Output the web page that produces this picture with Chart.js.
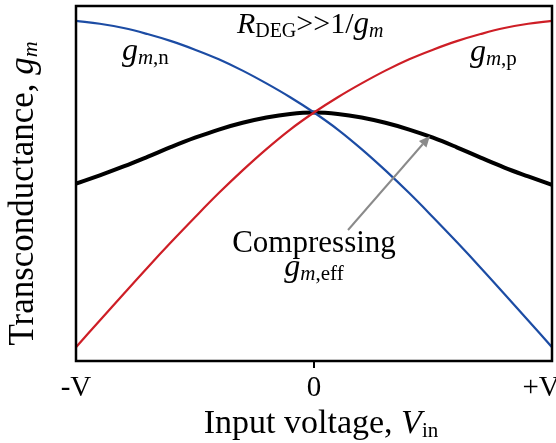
<!DOCTYPE html>
<html>
<head>
<meta charset="utf-8">
<script src="https://cdn.jsdelivr.net/npm/chart.js@4.4.0/dist/chart.umd.min.js"></script>
<style>
  html, body { margin: 0; padding: 0; background: #fff; }
  #gmChart { display: block; }
</style>
</head>
<body>
<canvas id="gmChart" width="556" height="443"></canvas>
<script>
// Input voltage sweep, -V .. +V normalized to -1 .. 1
const vin = [-1, -0.9, -0.8, -0.7, -0.6, -0.5, -0.4, -0.3, -0.2, -0.1, 0,
             0.1, 0.2, 0.3, 0.4, 0.5, 0.6, 0.7, 0.8, 0.9, 1];

// Transconductance (arbitrary units, 0..100)
const gmN = [95.8, 95.0, 93.8, 92.1, 90.1, 87.7, 85.0, 81.8, 78.2, 74.3, 70.0,
             65.2, 59.7, 53.7, 47.3, 40.5, 33.5, 26.3, 18.9, 11.4, 3.9];
const gmP = [3.9, 11.4, 18.9, 26.3, 33.5, 40.5, 47.3, 53.7, 59.7, 65.2, 70.0,
             74.3, 78.2, 81.8, 85.0, 87.7, 90.1, 92.1, 93.8, 95.0, 95.8];
const gmEff = [50.0, 52.3, 54.8, 57.5, 60.3, 62.9, 65.2, 67.1, 68.6, 69.6, 70.0,
               69.6, 68.6, 67.1, 65.2, 62.9, 60.2, 57.3, 54.5, 52.0, 49.6];

// Axis ticks
const xTickValues = [-1, 0, 1];
const xTickLabels = ['-V', '0', '+V   '];

// Arrow pointing at the compressed curve (data coordinates)
const arrowFrom = { x: 0.143, y: 36.9 };
const arrowTo = { x: 0.487, y: 63.4 };

const SERIF = '"Liberation Serif", "Times New Roman", serif';
const BLUE = 'rgb(28, 76, 164)';
const RED = 'rgb(206, 30, 38)';

function font(size, italic) {
    return (italic ? 'italic ' : '') + size + 'px ' + SERIF;
}

// Draw a line of text made of several runs (for italics and subscripts)
function drawRuns(ctx, runs, x, y, align) {
    let total = 0;
    runs.forEach(r => {
        ctx.font = r.font;
        r.w = ctx.measureText(r.text).width;
        total += r.w;
    });
    let cx = align === 'center' ? x - total / 2 : x;
    runs.forEach(r => {
        ctx.font = r.font;
        ctx.fillText(r.text, cx, y + (r.dy || 0));
        cx += r.w;
    });
}

// Text labels placed in data coordinates
const notes = [
    { x: -0.807, y: 84.8, align: 'left', runs: [
        { text: 'g', font: font(32, true) },
        { text: 'm', font: font(21, true), dy: 4 },
        { text: ',n', font: font(21, false), dy: 4 }
    ] },
    { x: 0.655, y: 84.5, align: 'left', runs: [
        { text: 'g', font: font(32, true) },
        { text: 'm', font: font(21, true), dy: 4 },
        { text: ',p', font: font(21, false), dy: 4 }
    ] },
    { x: -0.324, y: 92.4, align: 'left', runs: [
        { text: 'R', font: font(30, true) },
        { text: 'DEG', font: font(20, false), dy: 4 },
        { text: '>>1/', font: font(30, false) },
        { text: 'g', font: font(31, true) },
        { text: 'm', font: font(20, true), dy: 4 }
    ] },
    { x: 0.0, y: 30.7, align: 'center', runs: [
        { text: 'Compressing', font: font(31, false) }
    ] },
    { x: 0.0, y: 23.9, align: 'center', runs: [
        { text: 'g', font: font(32, true) },
        { text: 'm', font: font(21, true), dy: 4 },
        { text: ',eff', font: font(21, false), dy: 4 }
    ] }
];

const figurePlugin = {
    id: 'figureText',
    afterDatasetsDraw(chart) {
        const ctx = chart.ctx;
        const area = chart.chartArea;
        const xs = chart.scales.x;
        const ys = chart.scales.y;

        ctx.save();

        // Plot frame
        ctx.strokeStyle = '#000';
        ctx.lineWidth = 2.5;
        ctx.strokeRect(area.left, area.top, area.right - area.left, area.bottom - area.top);

        // Arrow
        const x0 = xs.getPixelForValue(arrowFrom.x), y0 = ys.getPixelForValue(arrowFrom.y);
        const x1 = xs.getPixelForValue(arrowTo.x), y1 = ys.getPixelForValue(arrowTo.y);
        const ang = Math.atan2(y1 - y0, x1 - x0);
        const headLen = 11, headW = 5;
        ctx.strokeStyle = '#8a8a8a';
        ctx.fillStyle = '#8a8a8a';
        ctx.lineWidth = 2;
        ctx.beginPath();
        ctx.moveTo(x0, y0);
        ctx.lineTo(x1 - headLen * Math.cos(ang), y1 - headLen * Math.sin(ang));
        ctx.stroke();
        ctx.beginPath();
        ctx.moveTo(x1, y1);
        ctx.lineTo(x1 - headLen * Math.cos(ang) + headW * Math.sin(ang),
                   y1 - headLen * Math.sin(ang) - headW * Math.cos(ang));
        ctx.lineTo(x1 - headLen * Math.cos(ang) - headW * Math.sin(ang),
                   y1 - headLen * Math.sin(ang) + headW * Math.cos(ang));
        ctx.closePath();
        ctx.fill();

        // Labels
        ctx.fillStyle = '#000';
        ctx.textBaseline = 'alphabetic';
        ctx.textAlign = 'left';
        notes.forEach(n => {
            drawRuns(ctx, n.runs, xs.getPixelForValue(n.x), ys.getPixelForValue(n.y), n.align);
        });

        // X axis title
        drawRuns(ctx, [
            { text: 'Input voltage, ', font: font(34, false) },
            { text: 'V', font: font(34, true) },
            { text: 'in', font: font(21, false), dy: 4 }
        ], (area.left + area.right) / 2 + 7, 433, 'center');

        // Y axis title
        ctx.translate(33, (area.top + area.bottom) / 2 + 10);
        ctx.rotate(-Math.PI / 2);
        drawRuns(ctx, [
            { text: 'Transconductance, ', font: font(35, false) },
            { text: 'g', font: font(35, true) },
            { text: 'm', font: font(22, true), dy: 4 }
        ], 0, 0, 'center');

        ctx.restore();
    }
};

function makeSeries(label, values, color, width, order) {
    return {
        label: label,
        data: vin.map((v, i) => ({ x: v, y: values[i] })),
        borderColor: color,
        borderWidth: width,
        pointRadius: 0,
        tension: 0.4,
        fill: false,
        order: order
    };
}

new Chart(document.getElementById('gmChart'), {
    type: 'line',
    data: {
        datasets: [
            makeSeries('gm,eff', gmEff, '#000', 4, 3),
            makeSeries('gm,n', gmN, BLUE, 2.2, 2),
            makeSeries('gm,p', gmP, RED, 2.2, 1)
        ]
    },
    options: {
        responsive: false,
        animation: false,
        layout: { padding: { left: 76, right: 4, top: 6, bottom: 0 } },
        plugins: {
            legend: { display: false },
            tooltip: { enabled: false }
        },
        scales: {
            x: {
                type: 'linear',
                min: -1,
                max: 1,
                afterBuildTicks: (scale) => {
                    scale.ticks = xTickValues.map(v => ({ value: v }));
                },
                afterFit: (scale) => {
                    scale.height = 82;
                    scale.paddingLeft = 0;
                    scale.paddingRight = 0;
                },
                border: { display: false },
                grid: {
                    drawOnChartArea: false,
                    drawTicks: true,
                    tickLength: 7,
                    lineWidth: 2,
                    color: (c) => (c.tick && c.tick.value === 0) ? '#000' : 'rgba(0,0,0,0)'
                },
                ticks: {
                    autoSkip: false,
                    maxRotation: 0,
                    padding: 3,
                    color: '#000',
                    font: { family: SERIF, size: 29 },
                    callback: (value, index) => xTickLabels[index]
                }
            },
            y: {
                display: false,
                min: 0,
                max: 100
            }
        }
    },
    plugins: [figurePlugin]
});
</script>
</body>
</html>
